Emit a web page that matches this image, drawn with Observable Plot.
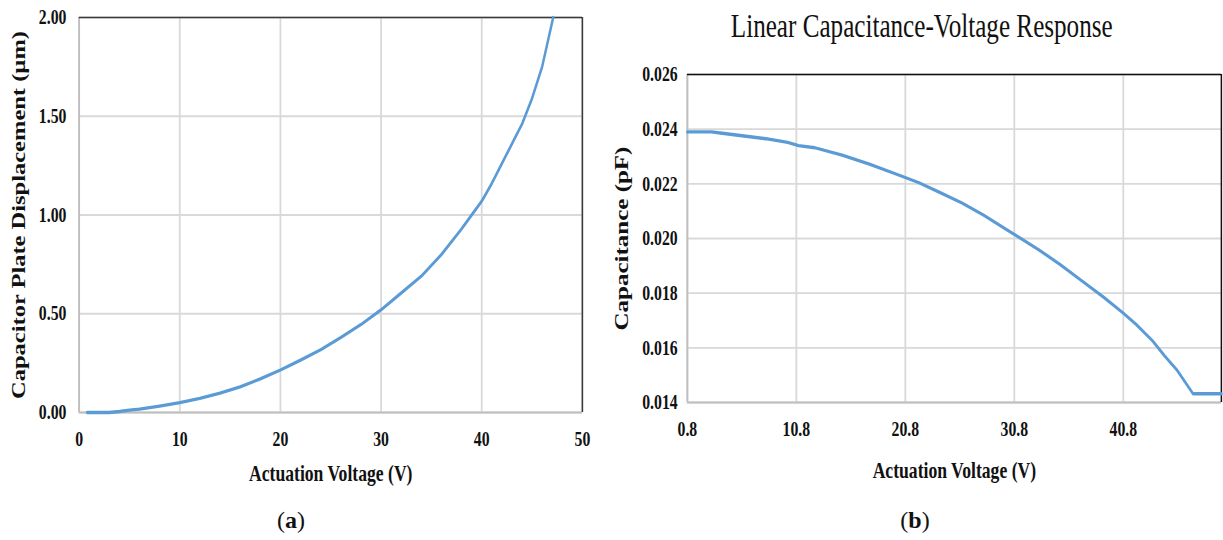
<!DOCTYPE html>
<html>
<head>
<meta charset="utf-8">
<script src="https://cdn.jsdelivr.net/npm/d3@7"></script>
<script src="https://cdn.jsdelivr.net/npm/@observablehq/plot@0.6"></script>
<style>
  body { margin: 0; background: #fff; }
  #root { position: relative; width: 1223px; height: 540px; overflow: hidden; font-family: "Liberation Serif", serif; background: #fff; }
  .panel { position: absolute; top: 0; transform: scaleX(0.75); transform-origin: 0 0; }
  .panel svg { max-width: none !important; }
  .title { position: absolute; left: 0; top: 9px; width: 858px; text-align: center; font-size: 33.5px; line-height: 33px; font-weight: normal; color: #111; white-space: nowrap; }
  .cap { position: absolute; top: 508px; font-size: 24px; line-height: 24px; color: #111; text-align: center; width: 80px; }
</style>
</head>
<body>
<div id="root">
  <div class="panel" id="panelA" style="left:0px;width:786px;"></div>
  <div class="panel" id="panelB" style="left:600px;width:830px;">
    <div class="title">Linear Capacitance-Voltage Response</div>
  </div>
  <div class="cap" style="left:251px;">(<b>a</b>)</div>
  <div class="cap" style="left:875px;">(<b>b</b>)</div>
</div>
<script>
// ---- Panel (a): displacement vs voltage ----
const voltA = [0.8, 3, 4, 5, 6, 8, 10, 12, 14, 16, 18, 20, 22, 24, 26, 28, 30, 32, 34, 36, 38, 39, 40, 41, 42, 43, 44, 45, 46, 47.1];
const dispA = [0, 0, 0.005, 0.012, 0.017, 0.032, 0.050, 0.072, 0.098, 0.130, 0.170, 0.215, 0.265, 0.318, 0.380, 0.445, 0.520, 0.605, 0.690, 0.800, 0.930, 1.000, 1.070, 1.160, 1.260, 1.360, 1.460, 1.590, 1.750, 2.000];
const xTicksA = [0, 10, 20, 30, 40, 50];
const yTicksA = [0, 0.5, 1.0, 1.5, 2.0];

// ---- Panel (b): capacitance vs voltage ----
const voltB = [0.8, 3, 4, 6, 8, 10, 11, 12.5, 15, 17.5, 20, 22, 24, 26, 28, 30, 31, 33, 35, 37, 39, 40.8, 42, 43.5, 44.6, 45.7, 47.2, 49.8];
const capB = [0.02390, 0.02390, 0.02385, 0.02375, 0.02365, 0.02352, 0.02340, 0.02332, 0.02305, 0.02272, 0.02235, 0.02205, 0.02168, 0.02130, 0.02085, 0.02035, 0.02010, 0.01960, 0.01905, 0.01845, 0.01785, 0.01727, 0.01685, 0.01625, 0.01570, 0.01520, 0.01432, 0.01432];
const xTicksB = [0.8, 10.8, 20.8, 30.8, 40.8];
const xDomainB = [0.8, 49.8];
const yTicksB = [0.014, 0.016, 0.018, 0.020, 0.022, 0.024, 0.026];

const xLabel = "Actuation Voltage (V)";
const yLabelA = "Capacitor Plate Displacement (µm)";
const yLabelB = "Capacitance (pF)";

const dataA = voltA.map((v, i) => ({v, d: dispA[i]}));
const dataB = voltB.map((v, i) => ({v, c: capB[i]}));

const lineColor = "#5b9bd5";
const gridColor = "#d9d9d9";
const axisColor = "#bfbfbf";
const frameColor = "#3a3a3a";
const style = {fontFamily: '"Liberation Serif", serif', fontWeight: "bold", fontSize: "21px", color: "#111", background: "transparent", overflow: "visible"};

const xA = [xTicksA[0], xTicksA[xTicksA.length - 1]];
const yA = [yTicksA[0], yTicksA[yTicksA.length - 1]];

const plotA = Plot.plot({
  width: 786, height: 490,
  marginLeft: 105, marginRight: 10, marginTop: 17, marginBottom: 78,
  style,
  x: {domain: xA},
  y: {domain: yA},
  marks: [
    Plot.gridX(xTicksA, {stroke: gridColor, strokeOpacity: 1, strokeWidth: 2.4}),
    Plot.gridY(yTicksA, {stroke: gridColor, strokeOpacity: 1, strokeWidth: 1.8}),
    Plot.ruleX([xA[0]], {stroke: axisColor, strokeWidth: 2.4}),
    Plot.ruleY([yA[0]], {stroke: axisColor, strokeWidth: 1.8}),
    Plot.ruleY([yA[1]], {stroke: frameColor, strokeWidth: 1.6}),
    Plot.ruleX([xA[1]], {stroke: frameColor, strokeWidth: 2}),
    Plot.line(dataA, {x: "v", y: "d", stroke: lineColor, strokeWidth: 3.3}),
    Plot.axisX(xTicksA, {tickSize: 0, tickPadding: 19, tickFormat: d => String(d), label: null, fontSize: 21}),
    Plot.axisY(yTicksA, {tickSize: 0, tickPadding: 17, tickFormat: d3.format(".2f"), label: null, fontSize: 21}),
    Plot.axisX({ticks: [], label: xLabel, labelAnchor: "center", labelOffset: 68, labelArrow: "none", fontSize: 23.5}),
    Plot.axisY({ticks: [], label: yLabelA, labelAnchor: "center", labelOffset: 90, labelArrow: "none", fontSize: 24.5})
  ]
});
document.getElementById("panelA").appendChild(plotA);

const yB = [yTicksB[0], yTicksB[yTicksB.length - 1]];
const plotB = Plot.plot({
  width: 830, height: 485,
  marginLeft: 116, marginRight: 2, marginTop: 74, marginBottom: 83,
  style,
  x: {domain: xDomainB},
  y: {domain: yB},
  marks: [
    Plot.gridX(xTicksB, {stroke: gridColor, strokeOpacity: 1, strokeWidth: 2.4}),
    Plot.gridY(yTicksB, {stroke: gridColor, strokeOpacity: 1, strokeWidth: 1.8}),
    Plot.ruleX([xDomainB[0]], {stroke: axisColor, strokeWidth: 2.4}),
    Plot.ruleY([yB[0]], {stroke: axisColor, strokeWidth: 1.8}),
    Plot.ruleY([yB[1]], {stroke: "#111", strokeWidth: 1.6}),
    Plot.ruleX([xDomainB[1]], {stroke: "#111", strokeWidth: 2}),
    Plot.line(dataB, {x: "v", y: "c", stroke: lineColor, strokeWidth: 3.3}),
    Plot.axisX(xTicksB, {tickSize: 0, tickPadding: 19, tickFormat: d => String(d), label: null, fontSize: 21}),
    Plot.axisY(yTicksB, {tickSize: 0, tickPadding: 13, tickFormat: d3.format(".3f"), label: null, fontSize: 21}),
    Plot.axisX({ticks: [], label: xLabel, labelAnchor: "center", labelOffset: 75, labelArrow: "none", fontSize: 23.5}),
    Plot.axisY({ticks: [], label: yLabelB, labelAnchor: "center", labelOffset: 97, labelArrow: "none", fontSize: 25})
  ]
});
document.getElementById("panelB").appendChild(plotB);
</script>
</body>
</html>
